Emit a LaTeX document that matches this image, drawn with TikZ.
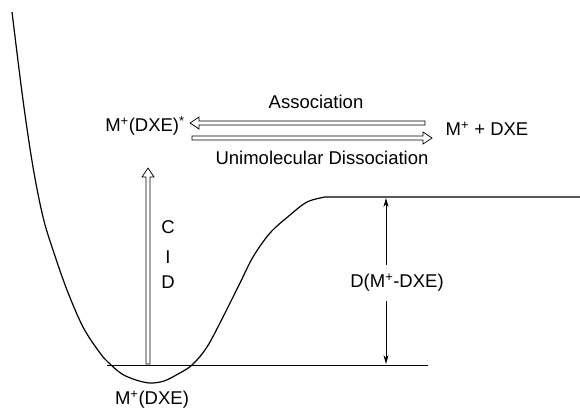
\documentclass[tikz,border=0pt]{standalone}
\usepackage{fontspec}
\setmainfont{Liberation Sans}
\usetikzlibrary{calc,arrows.meta}
\begin{document}
\begin{tikzpicture}[x=1pt,y=-1pt,
  curve/.style={line width=1.2pt},
  lbl/.style={font=\fontsize{18.5}{21}\selectfont, inner sep=1pt},
  hollow/.style={line width=0.7pt, line join=miter},
  dim/.style={line width=0.8pt, -{Stealth[length=9pt,width=5pt]}}]
\useasboundingbox (0,0) rectangle (580,413);
% potential curve
\draw[curve] plot[smooth, tension=0.55] coordinates {(12,12) (23,100) (33,167) (43,217) (53,250) (67,290) (83,327) (100,353) (110,364) (122,374) (136,380) (150,383) (164,381) (178,374) (192,365) (207,347) (223,317) (240,283) (253,257) (270,233) (290,215) (307,202) (325,197)} -- (580,197);
% ground level
\draw[line width=1pt] (107,365) -- (428,365);
% labels
\node[lbl] (assoc) at (316,102) {Association};
\node[lbl] (unimol) at (322,158) {Unimolecular Dissociation};
\node[lbl] (mstar) at (145,126) {M\textsuperscript{+}(DXE)\textsuperscript{*}};
\node[lbl] (mdxe) at (487,129) {M\textsuperscript{+} + DXE};
\node[lbl] (mbot) at (152,400) {M\textsuperscript{+}(DXE)};
\node[lbl] (c) at (168,227) {C};
\node[lbl] (i) at (168,257) {I};
\node[lbl] (d) at (168,282) {D};
\node[lbl] (dlab) at (397,283) {D(M\textsuperscript{+}-DXE)};
% coordinates
\coordinate (ta) at (425,123);
\coordinate (tb) at (190,123);
\coordinate (ba) at (192,138);
\coordinate (bb) at (432,138);
\coordinate (cidb) at (148,364);
\coordinate (cidt) at (148,168);
\coordinate (dtop) at (386,198);
\coordinate (dbot) at (386,364);
% hollow arrows
\draw[hollow] (tb) -- ++(9,-6) -- ++(0,4) -- ($(ta)+(0,-2)$) -- ++(0,4) -- ($(tb)+(9,2)$) -- ++(0,4) -- cycle;
\draw[hollow] (bb) -- ++(-9,-6) -- ++(0,4) -- ($(ba)+(0,-2)$) -- ++(0,4) -- ($(bb)+(-9,2)$) -- ++(0,4) -- cycle;
\draw[hollow] (cidt) -- ++(-6,9) -- ++(4,0) -- ($(cidb)+(-2,0)$) -- ++(4,0) -- ($(cidt)+(2,9)$) -- ++(4,0) -- cycle;
% dimension arrows
\draw[dim] (dlab.north -| dtop) ++(0,-8) -- (dtop);
\draw[dim] (dlab.south -| dbot) ++(0,8) -- (dbot);
\end{tikzpicture}
\end{document}
